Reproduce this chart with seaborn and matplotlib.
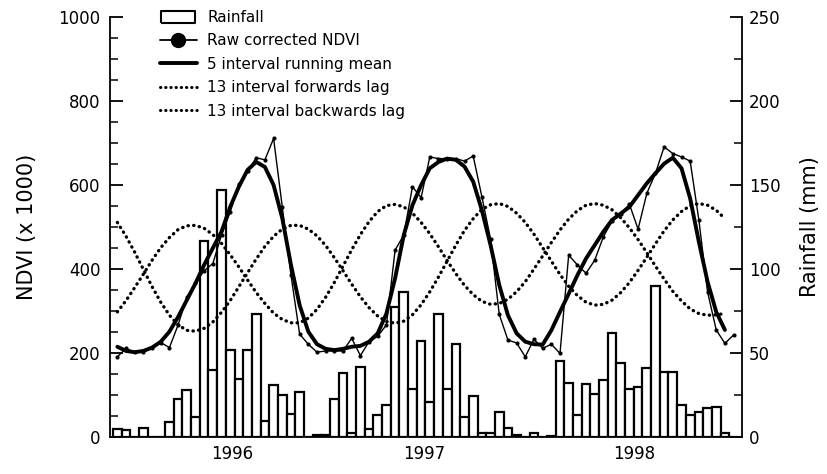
import numpy as np
import pandas as pd
import seaborn as sns
import matplotlib.pyplot as plt
from matplotlib.lines import Line2D
from matplotlib.ticker import MultipleLocator

# half-monthly intervals, Jan 1996 - Dec 1998
slot = list(range(72))

rain = [5, 4, 0, 5.5, 0, 0, 8.7, 22.6, 27.8, 11.9, 116.7, 39.7, 147, 51.8, 34.7, 51.8,
        73, 9.7, 30.8, 25.2, 13.9, 26.8, 0, 1.5, 1.5, 22.6, 37.9, 2.6, 41.9, 4.6, 13.1, 19,
        77.6, 86.1, 28.6, 57.1, 20.8, 73, 28.6, 55.6, 11.9, 24.4, 2.2, 2.2, 15.1, 5.2, 1, 0,
        2.4, 0, 0.5, 45, 32.1, 12.9, 31.5, 25.4, 33.9, 61.7, 44.2, 28.6, 29.8, 41.3, 89.9, 38.5,
        38.5, 19.2, 12.9, 14.9, 17.1, 17.8, 2.5, 0]

ndvi_raw = [191, 211, 202, 202, 213, 225, 213, 267, 333, 367, 396, 413, 481, 536, 602, 633,
            665, 660, 711, 548, 386, 245, 221, 202, 205, 205, 205, 235, 194, 227, 240, 267,
            445, 481, 596, 570, 667, 663, 663, 663, 657, 669, 572, 471, 292, 231, 224, 191,
            233, 211, 221, 199, 433, 410, 390, 421, 477, 514, 532, 554, 495, 580, 628, 691,
            675, 667, 657, 517, 346, 255, 223, 243]

run_mean = [215, 205, 202, 205, 213, 227, 251, 286, 326, 366, 410, 450, 489, 548, 596, 636,
            655, 643, 600, 521, 410, 314, 251, 221, 210, 207, 210, 215, 217, 227, 247, 294,
            378, 481, 552, 600, 640, 655, 663, 660, 644, 608, 540, 457, 362, 290, 247, 227,
            221, 220, 254, 298, 341, 385, 425, 457, 489, 517, 532, 548, 576, 604, 628, 651,
            665, 640, 568, 465, 370, 298, 255]

fwd_lag = [511, 478, 440, 399, 358, 321, 290, 267, 254, 252, 259, 274, 297, 325, 358, 391,
           424, 454, 478, 495, 504, 504, 495, 479, 456, 427, 396, 364, 334, 308, 288, 275,
           271, 276, 291, 315, 346, 381, 419, 457, 492, 520, 542, 553, 556, 549, 533, 511,
           483, 451, 419, 387, 359, 337, 321, 314, 316, 326, 344, 368, 397, 428, 460, 491,
           517, 537, 551, 556, 552, 540, 520]

bwd_lag = [298, 325, 356, 388, 421, 451, 475, 494, 503, 504, 497, 482, 461, 434, 405, 374,
           344, 318, 295, 280, 272, 272, 283, 304, 333, 368, 407, 446, 482, 513, 537, 551,
           554, 548, 533, 511, 484, 453, 420, 389, 361, 339, 323, 316, 318, 328, 346, 370,
           400, 431, 463, 493, 519, 539, 552, 556, 552, 541, 522, 498, 470, 439, 407, 376,
           347, 324, 305, 294, 290, 291, 294]

year_labels = ["1996", "1997", "1998"]
year_pos = [13.2, 35.4, 59.6]

sns.set_style("ticks")
plt.rcParams["font.family"] = ["DejaVu Sans"]
plt.rcParams.update({"text.color": "black", "axes.labelcolor": "black",
                     "xtick.color": "black", "ytick.color": "black",
                     "axes.edgecolor": "black"})

fig, ax = plt.subplots(figsize=(8.27, 4.74), dpi=100)
fig.subplots_adjust(left=0.133, right=0.897, top=0.964, bottom=0.078)
ax2 = ax.twinx()

# rainfall bars on the right axis
sns.barplot(x=slot, y=rain, ax=ax2, color="white", edgecolor="black",
            linewidth=1.6, width=1.0, saturation=1)

# NDVI lines on the left axis
dot = (0, (0.1, 1.6))
sns.lineplot(x=slot[:71], y=fwd_lag, ax=ax, color="black", lw=2.4,
             linestyle=dot, dash_capstyle="round")
sns.lineplot(x=slot[:71], y=bwd_lag, ax=ax, color="black", lw=2.4,
             linestyle=dot, dash_capstyle="round")
sns.lineplot(x=slot, y=ndvi_raw, ax=ax, color="black", lw=1.0,
             marker="o", markersize=3, markeredgewidth=0)
sns.lineplot(x=slot[:71], y=run_mean, ax=ax, color="black", lw=2.8)

ax.set_zorder(ax2.get_zorder() + 1)
ax.patch.set_visible(False)

ax.set_xlim(-0.85, 71.95)
ax.set_ylim(0, 1000)
ax2.set_ylim(0, 250)
ax.set_xticks(year_pos)
ax.set_xticklabels(year_labels)
ax.tick_params(axis="x", length=0, pad=6, labelsize=12)

ax.yaxis.set_major_locator(MultipleLocator(200))
ax.yaxis.set_minor_locator(MultipleLocator(50))
ax2.yaxis.set_major_locator(MultipleLocator(50))
ax2.yaxis.set_minor_locator(MultipleLocator(25))
ax.tick_params(axis="y", which="major", direction="in", length=9, width=1.3,
               labelsize=12, pad=7)
ax.tick_params(axis="y", which="minor", direction="in", length=6, width=1.1)
ax2.tick_params(axis="y", which="major", direction="in", length=9, width=1.3,
                labelsize=12, pad=5)
ax2.tick_params(axis="y", which="minor", direction="in", length=6, width=1.1)

for a in (ax, ax2):
    a.spines["top"].set_visible(False)
    for s in ("left", "right", "bottom"):
        a.spines[s].set_linewidth(1.3)
ax.spines["right"].set_visible(False)
ax2.spines["left"].set_visible(False)
ax2.spines["bottom"].set_visible(False)

ax.set_xlabel("")
ax2.set_xlabel("")
ax.set_ylabel("NDVI (x 1000)", fontsize=15, labelpad=15)
ax2.set_ylabel("Rainfall (mm)", fontsize=15, labelpad=14)

rect = [(-1.4, -0.5), (1.4, -0.5), (1.4, 0.5), (-1.4, 0.5), (-1.4, -0.5)]
handles = [
    Line2D([], [], ls="none", marker=rect, markersize=25, markerfacecolor="white",
           markeredgecolor="black", markeredgewidth=1.5),
    Line2D([], [], color="black", lw=1.3, marker="o", markersize=10),
    Line2D([], [], color="black", lw=2.8),
    Line2D([], [], color="black", lw=2.2, linestyle=dot, dash_capstyle="round"),
    Line2D([], [], color="black", lw=2.2, linestyle=dot, dash_capstyle="round"),
]
labels = ["Rainfall", "Raw corrected NDVI", "5 interval running mean",
          "13 interval forwards lag", "13 interval backwards lag"]
fig.legend(handles, labels, loc="upper left", bbox_to_anchor=(160 / 827, 1 - 10 / 474),
           frameon=False, fontsize=11, borderpad=0, borderaxespad=0,
           handlelength=2.4, handletextpad=0.7, labelspacing=0.55, numpoints=1)

fig.savefig("out.png", dpi=100)
